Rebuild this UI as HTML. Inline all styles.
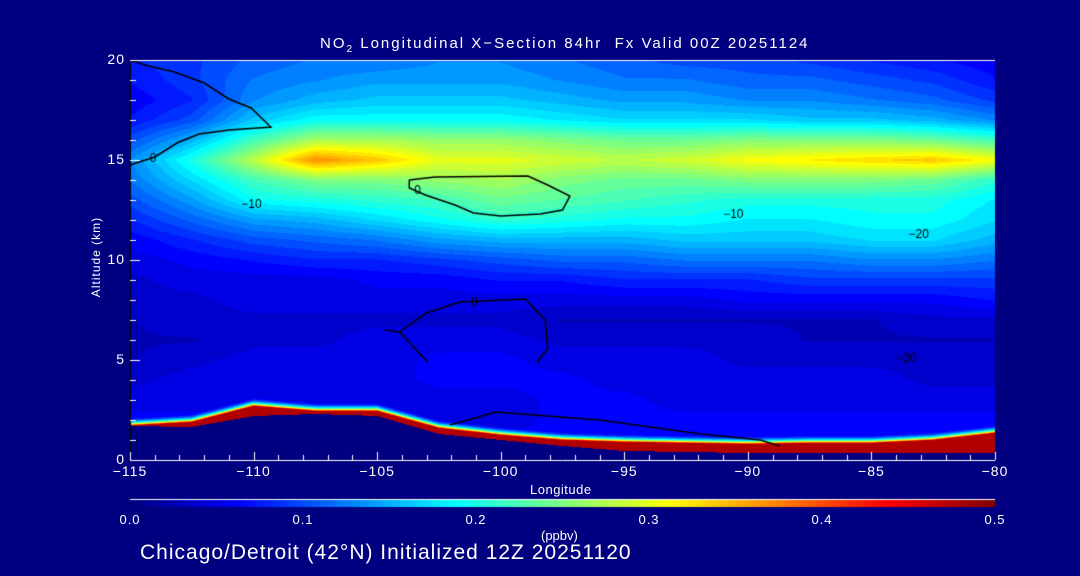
<!DOCTYPE html>
<html><head><meta charset="utf-8">
<style>
body{margin:0;background:#000080;}
#wrap{position:relative;width:1080px;height:576px;background:#000080;overflow:hidden;font-family:"Liberation Sans",sans-serif;color:#fff;}
.t{position:absolute;white-space:nowrap;color:#fff;}
</style></head>
<body>
<div id="wrap">
<div class="t" style="left:320px;top:35px;font-size:15px;letter-spacing:2px;">NO<sub style="font-size:10px">2</sub> Longitudinal X−Section 84hr &nbsp;Fx Valid 00Z 20251124</div>
<canvas id="cv" width="1080" height="576" style="position:absolute;left:0;top:0"></canvas>
<div class="t" style="left:46px;top:250px;font-size:12px;letter-spacing:1px;transform:rotate(-90deg);transform-origin:center;width:100px;text-align:center;">Altitude (km)</div>
<div class="t" style="left:530px;top:482px;font-size:13px;letter-spacing:0.5px;">Longitude</div>
<div class="t" style="left:541px;top:528px;font-size:13px;">(ppbv)</div>
<div class="t" style="left:140px;top:541px;font-size:21px;letter-spacing:1px;">Chicago/Detroit (42°N) Initialized 12Z 20251120</div>
</div>
<script>
const lons=[-115,-112.5,-110,-107.5,-105,-102.5,-100,-97.5,-95,-92.5,-90,-87.5,-85,-82.5,-80];
const alts=[20,19,18,17,16,15,14,13,12,11,10,9,8,7,6,5,4,3,2,1,0];
const r20=[.08,.09,.11,.12,.12,.13,.13,.12,.11,.10,.10,.09,.08,.07,.06];
const r19=[.07,.09,.12,.13,.14,.14,.14,.13,.12,.12,.11,.11,.10,.09,.07];
const r18=[.06,.08,.13,.15,.16,.16,.16,.15,.14,.14,.13,.13,.12,.11,.09];
const r17=[.07,.10,.16,.19,.19,.19,.19,.18,.17,.17,.17,.16,.16,.15,.13];
const r16=[.10,.15,.22,.27,.27,.26,.26,.25,.24,.24,.25,.25,.25,.24,.22];
const r15=[.13,.20,.28,.37,.34,.30,.30,.29,.28,.29,.31,.32,.33,.34,.31];
const r14=[.12,.17,.22,.25,.25,.26,.27,.25,.24,.24,.25,.25,.25,.24,.21];
const r13=[.10,.14,.19,.20,.21,.22,.24,.23,.22,.21,.20,.20,.20,.20,.18];
const r12=[.08,.11,.14,.15,.17,.19,.21,.20,.19,.19,.18,.18,.19,.19,.17];
const r11=[.06,.08,.10,.11,.12,.14,.15,.15,.15,.16,.16,.16,.17,.17,.15];
const r10=[.05,.06,.07,.08,.08,.09,.10,.11,.11,.12,.12,.12,.13,.13,.12];
const r9=[.04,.05,.05,.05,.06,.06,.07,.07,.08,.08,.08,.09,.09,.09,.09];
const r8=[.04,.04,.05,.05,.05,.05,.05,.05,.05,.05,.06,.06,.06,.06,.07];
const r7=[.03,.04,.04,.04,.04,.04,.04,.03,.03,.03,.03,.03,.03,.04,.04];
const r6=[.03,.03,.04,.04,.05,.05,.05,.04,.04,.04,.04,.03,.03,.03,.03];
const r5=[.03,.04,.05,.05,.05,.06,.06,.05,.05,.05,.04,.04,.04,.04,.04];
const r4=[.04,.05,.05,.05,.05,.06,.06,.06,.05,.05,.05,.05,.05,.04,.04];
const r3=[.05,.05,.05,.05,.05,.05,.05,.06,.06,.05,.05,.05,.05,.05,.05];
const r2=[.06,.06,.06,.06,.06,.05,.05,.06,.06,.06,.06,.06,.06,.06,.06];
const r1=[.06,.06,.06,.06,.06,.06,.06,.06,.06,.06,.06,.06,.06,.06,.06];
const r0=[.06,.06,.06,.06,.06,.06,.06,.06,.06,.06,.06,.06,.06,.06,.06];
const groundAlt=[1.7,1.65,2.2,2.3,2.2,1.3,1.0,0.7,0.45,0.4,0.35,0.35,0.35,0.35,0.35];
const redTopAlt=[1.72,1.9,2.7,2.45,2.45,1.6,1.25,1.0,0.9,0.85,0.8,0.85,0.85,1.0,1.35];
const xTicks=[-115,-110,-105,-100,-95,-90,-85,-80];
const yTicks=[0,5,10,15,20];
const cbTicks=[0.0,0.1,0.2,0.3,0.4,0.5];
const contour0Lon=[-115,-114.4,-113.2,-112,-111,-110.1,-109.3,-111,-112.2,-113.1,-114,-115];
const contour0Alt=[20,19.75,19.4,18.85,18.05,17.6,16.65,16.5,16.3,15.85,15.15,14.75];
const loopALon=[-103.7,-102.65,-98.9,-98.1,-97.2,-97.5,-98.4,-100,-101.1,-101.85,-103.05,-103.7,-103.7];
const loopAAlt=[14.0,14.15,14.2,13.75,13.2,12.5,12.3,12.2,12.35,12.75,13.25,13.6,14.0];
const loopBLon=[-104.7,-104.1,-103.0,-101.65,-99.0,-98.2,-98.1,-98.5];
const loopBAlt=[6.5,6.4,7.35,7.9,8.05,7.0,5.6,4.9];
const loopCLon=[-104.1,-102.95];
const loopCAlt=[6.4,4.9];
const sfcLon=[-102.05,-100.2,-96,-91.9,-89.5,-88.7];
const sfcAlt=[1.75,2.4,2.0,1.3,1.0,0.7];

const rows=[r20,r19,r18,r17,r16,r15,r14,r13,r12,r11,r10,r9,r8,r7,r6,r5,r4,r3,r2,r1,r0];
const PL=130,PR=995,PT=60,PB=460;
const X=l=>PL+(l-lons[0])/(lons[lons.length-1]-lons[0])*(PR-PL);
const Y=z=>PB-(z-0)/(20-0)*(PB-PT);
function jet(t){t=Math.max(0,Math.min(1,t));
 const f=(a)=>Math.max(0,Math.min(1,a));
 const r=f(Math.min(4*t-1.5,-4*t+4.5)),g=f(Math.min(4*t-0.5,-4*t+3.5)),b=f(Math.min(4*t+0.5,-4*t+2.5));
 return [r*255|0,g*255|0,b*255|0];}
function interp1(arr,l){const s=(l-lons[0])/2.5;let i=Math.floor(s);if(i<0)i=0;if(i>=arr.length-1)i=arr.length-2;const f=s-i;return arr[i]*(1-f)+arr[i+1]*f;}
function field(l,z){const s=(l-lons[0])/2.5;let i=Math.min(Math.max(Math.floor(s),0),lons.length-2);const fx=s-i;
 const sz=(20-z);let j=Math.min(Math.max(Math.floor(sz),0),alts.length-2);const fz=sz-j;
 const a=rows[j][i]*(1-fx)+rows[j][i+1]*fx,b=rows[j+1][i]*(1-fx)+rows[j+1][i+1]*fx;return a*(1-fz)+b*fz;}
const cv=document.getElementById('cv'),ctx=cv.getContext('2d');
const W=PR-PL,H=PB-PT,img=ctx.createImageData(W,H);
for(let px=0;px<W;px++){const l=lons[0]+(px+0.5)/W*35;const g=interp1(groundAlt,l),rt=interp1(redTopAlt,l);
 for(let py=0;py<H;py++){const z=20-(py+0.5)/H*20;let c;
  if(z<g){c=[0,0,128];}
  else{let v;if(z<rt)v=0.48;else{const d=z-rt;const b=0.46*Math.exp(-d/0.18);v=Math.max(field(l,z),b);}
   v=Math.round(v/0.5*40)/40;c=jet(v);}
  const k=(py*W+px)*4;img.data[k]=c[0];img.data[k+1]=c[1];img.data[k+2]=c[2];img.data[k+3]=255;}}
ctx.putImageData(img,PL,PT);
function line(L,A,dash){ctx.beginPath();ctx.strokeStyle='#000';ctx.lineWidth=1.5;ctx.setLineDash(dash||[]);
 L.forEach((l,i)=>{const x=X(l),y=Y(A[i]);i?ctx.lineTo(x,y):ctx.moveTo(x,y);});ctx.stroke();ctx.setLineDash([]);}
line(contour0Lon,contour0Alt);line(loopALon,loopAAlt);line(loopBLon,loopBAlt);line(loopCLon,loopCAlt);line(sfcLon,sfcAlt);
ctx.fillStyle='#000';ctx.font='12px "Liberation Sans",sans-serif';
ctx.fillText('0',X(-114.2),Y(15.1)+4);ctx.fillText('0',X(-103.5),Y(13.5)+4);ctx.fillText('0',X(-101.2),Y(7.9)+4);
ctx.fillText('−10',X(-110.5),Y(12.8)+4);ctx.fillText('−10',X(-91),Y(12.3)+4);ctx.fillText('−20',X(-83.5),Y(11.3)+4);ctx.fillText('−20',X(-84),Y(5.1)+4);
ctx.strokeStyle='#fff';ctx.lineWidth=1;
ctx.beginPath();ctx.moveTo(PL,PT+0.5);ctx.lineTo(PR,PT+0.5);ctx.moveTo(PL,PB+0.5);ctx.lineTo(PR,PB+0.5);ctx.stroke();
ctx.beginPath();ctx.strokeStyle='#000';ctx.moveTo(PL+0.5,PT);ctx.lineTo(PL+0.5,PB);ctx.stroke();
ctx.strokeStyle='#fff';ctx.beginPath();
for(let l=-115;l<=-80;l++){const x=Math.round(X(l))+0.5;const len=(l%5===0)?8:5;ctx.moveTo(x,PB);ctx.lineTo(x,PB-len);}
for(let z=0;z<=20;z++){const y=Math.round(Y(z))+0.5;const len=(z%5===0)?10:6;ctx.moveTo(PL,y);ctx.lineTo(PL+len,y);}
ctx.stroke();
ctx.fillStyle='#fff';ctx.fillRect(PL,499,PR-PL,1);
for(let px=0;px<PR-PL;px++){const c=jet(px/(PR-PL));ctx.fillStyle=`rgb(${c[0]},${c[1]},${c[2]})`;ctx.fillRect(PL+px,500,1,7);}
const lab=document.getElementById('wrap');
function addLabel(txt,x,y,fs,name,align){const d=document.createElement('div');d.className='t';d.textContent=txt;d.style.fontSize=fs+'px';d.style.top=y+'px';d.style.letterSpacing='1px';
 d.style.left=x+'px';d.style.transform=align==='c'?'translateX(-50%)':(align==='r'?'translateX(-100%)':'none');
 
 
 lab.appendChild(d);}
xTicks.forEach(v=>addLabel(String(v).replace('-','−'),X(v),463,14,'x-tick-label','c'));
yTicks.forEach(v=>addLabel(String(v),125,Y(v)-9,14,'y-tick-label','r'));
cbTicks.forEach(v=>addLabel(v.toFixed(1),PL+(v/0.5)*(PR-PL),512,13,'colorbar-tick-label','c'));
</script>
</body></html>
